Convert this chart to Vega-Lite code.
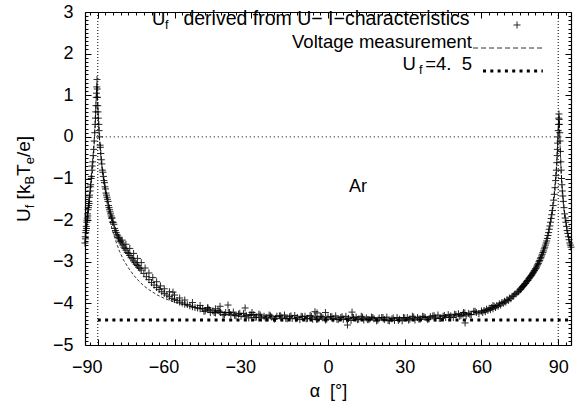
{
  "$schema": "https://vega.github.io/schema/vega-lite/v6.json",
  "width": 486,
  "height": 333,
  "autosize": "none",
  "padding": {"left": 85, "top": 12, "right": 12, "bottom": 66},
  "background": "white",
  "config": {
    "view": {"stroke": null},
    "font": "Liberation Sans",
    "axis": {
      "labelFont": "Liberation Sans", "labelFontSize": 18, "labelColor": "#000",
      "tickColor": "#000", "domainColor": "#000", "grid": false, "tickWidth": 1, "domainWidth": 1.2,
      "titleFont": "Liberation Sans", "titleFontSize": 18, "titleFontWeight": "normal", "titleColor": "#000"
    }
  },
  "datasets": {
    "pts": [
      {"x":-95.0,"y":-2.55},{"x":-94.9,"y":-2.4},{"x":-94.8,"y":-2.45},{"x":-94.7,"y":-2.3},{"x":-94.6,"y":-2.25},{"x":-94.5,"y":-2.15},{"x":-94.4,"y":-2.2},{"x":-94.3,"y":-2.05},{"x":-94.2,"y":-2.0},{"x":-94.1,"y":-1.95},{"x":-94.0,"y":-1.85},{"x":-93.9,"y":-1.9},{"x":-93.8,"y":-1.75},{"x":-93.7,"y":-1.7},{"x":-93.6,"y":-1.65},{"x":-93.5,"y":-1.55},{"x":-93.4,"y":-1.6},{"x":-93.3,"y":-1.45},{"x":-93.2,"y":-1.4},{"x":-93.0,"y":-1.3},{"x":-92.9,"y":-1.2},{"x":-92.8,"y":-1.15},{"x":-92.6,"y":-1.0},{"x":-92.5,"y":-0.95},{"x":-92.3,"y":-0.8},{"x":-92.2,"y":-0.7},{"x":-92.0,"y":-0.6},{"x":-91.8,"y":-0.45},{"x":-91.6,"y":-0.3},{"x":-91.4,"y":-0.1},{"x":-91.2,"y":0.1},{"x":-91.0,"y":0.3},{"x":-90.9,"y":0.45},{"x":-90.8,"y":0.6},{"x":-90.7,"y":0.75},{"x":-90.6,"y":0.95},{"x":-90.5,"y":1.05},{"x":-90.4,"y":1.2},{"x":-90.3,"y":1.38},{"x":-90.2,"y":1.15},
      {"x":-90.1,"y":0.95},{"x":-90.0,"y":0.75},{"x":-89.9,"y":0.6},{"x":-89.8,"y":0.45},{"x":-89.6,"y":0.3},{"x":-89.5,"y":0.15},{"x":-89.3,"y":0.0},{"x":-89.1,"y":-0.2},{"x":-89.0,"y":-0.25},{"x":-88.8,"y":-0.4},{"x":-88.6,"y":-0.55},{"x":-88.4,"y":-0.65},{"x":-88.2,"y":-0.8},{"x":-88.0,"y":-0.85},{"x":-87.8,"y":-0.95},{"x":-87.6,"y":-1.05},{"x":-87.4,"y":-1.1},{"x":-87.2,"y":-1.2},{"x":-87.0,"y":-1.25},{"x":-86.8,"y":-1.35},{"x":-86.6,"y":-1.4},{"x":-86.4,"y":-1.45},{"x":-86.2,"y":-1.5},{"x":-86.0,"y":-1.55},{"x":-85.8,"y":-1.65},{"x":-85.6,"y":-1.7},{"x":-85.4,"y":-1.75},{"x":-85.2,"y":-1.8},{"x":-85.0,"y":-1.85},{"x":-84.8,"y":-1.9},{"x":-84.6,"y":-1.95},{"x":-84.4,"y":-1.95},{"x":-84.2,"y":-2.05},{"x":-84.0,"y":-2.05},{"x":-83.7,"y":-2.1},{"x":-83.4,"y":-2.2},{"x":-83.1,"y":-2.25},{"x":-82.8,"y":-2.3},{"x":-82.5,"y":-2.35},{"x":-82.2,"y":-2.38},{"x":-81.9,"y":-2.42},{"x":-81.6,"y":-2.45},{"x":-81.3,"y":-2.5},{"x":-81.0,"y":-2.52},{"x":-80.6,"y":-2.55},{"x":-80.2,"y":-2.6},{"x":-79.8,"y":-2.65},{"x":-79.4,"y":-2.68},{"x":-79.0,"y":-2.72},{"x":-78.5,"y":-2.78},{"x":-78.0,"y":-2.8},{"x":-77.5,"y":-2.85},{"x":-77.0,"y":-2.9},{"x":-76.5,"y":-2.93},{"x":-76.0,"y":-2.98},{"x":-75.5,"y":-3.02},{"x":-75.0,"y":-3.06},{"x":-74.5,"y":-3.09},{"x":-74.0,"y":-3.13},{"x":-73.5,"y":-3.16},{"x":-73.0,"y":-3.2},{"x":-72.0,"y":-3.28},{"x":-71.0,"y":-3.36},{"x":-70.0,"y":-3.43},{"x":-69.0,"y":-3.5},{"x":-68.0,"y":-3.56},{"x":-67.0,"y":-3.62},{"x":-66.0,"y":-3.67},{"x":-65.0,"y":-3.72},{"x":-64.0,"y":-3.76},{"x":-63.0,"y":-3.8},{"x":-62.0,"y":-3.84},{"x":-61.0,"y":-3.88},{"x":-60.0,"y":-3.91},{"x":-59,"y":-3.93},{"x":-58,"y":-3.97},{"x":-57,"y":-3.99},{"x":-56,"y":-4.02},{"x":-55,"y":-4.03},{"x":-54,"y":-4.06},{"x":-53,"y":-4.08},{"x":-52,"y":-4.1},{"x":-51,"y":-4.11},{"x":-50,"y":-4.13},
      {"x":-80.5,"y":-2.48},{"x":-79,"y":-2.58},{"x":-77.5,"y":-2.68},{"x":-76,"y":-2.8},{"x":-74.5,"y":-2.92},{"x":-73,"y":-3.02},{"x":-71.5,"y":-3.15},{"x":-70,"y":-3.27},{"x":-68.5,"y":-3.38},{"x":-67,"y":-3.48},{"x":-65.5,"y":-3.58},{"x":-64,"y":-3.65},{"x":-62,"y":-3.72},{"x":-60.6,"y":-3.73},{"x":-60,"y":-3.8},{"x":-58,"y":-3.87},{"x":-56,"y":-3.92},{"x":-53,"y":-3.98},{"x":-50,"y":-4.05},{"x":-47,"y":-4.1},{"x":-44,"y":-4.13},
      {"x":-49,"y":-4.12},{"x":-48,"y":-4.18},{"x":-47,"y":-4.12},{"x":-46,"y":-4.22},{"x":-45,"y":-4.18},{"x":-44,"y":-4.23},{"x":-43,"y":-4.17},{"x":-42,"y":-4.22},{"x":-41,"y":-4.28},{"x":-40,"y":-4.22},{"x":-39,"y":-4.22},{"x":-38,"y":-4.27},{"x":-37,"y":-4.21},{"x":-36,"y":-4.3},{"x":-35,"y":-4.26},{"x":-34,"y":-4.31},{"x":-33,"y":-4.24},{"x":-32,"y":-4.29},{"x":-31,"y":-4.35},{"x":-30,"y":-4.28},{"x":-29,"y":-4.27},{"x":-28,"y":-4.33},{"x":-27,"y":-4.26},{"x":-26,"y":-4.35},{"x":-25,"y":-4.31},{"x":-24,"y":-4.35},{"x":-23,"y":-4.28},{"x":-22,"y":-4.33},{"x":-21,"y":-4.38},{"x":-20,"y":-4.31},{"x":-19,"y":-4.3},{"x":-18,"y":-4.35},{"x":-17,"y":-4.28},{"x":-16,"y":-4.37},{"x":-15,"y":-4.32},{"x":-14,"y":-4.36},{"x":-13,"y":-4.29},{"x":-12,"y":-4.34},{"x":-11,"y":-4.39},{"x":-10,"y":-4.32},{"x":-9,"y":-4.31},{"x":-8,"y":-4.36},{"x":-7,"y":-4.29},{"x":-6,"y":-4.38},{"x":-5,"y":-4.33},{"x":-4,"y":-4.38},{"x":-3,"y":-4.31},{"x":-2,"y":-4.35},{"x":-1,"y":-4.4},{"x":0,"y":-4.33},{"x":1,"y":-4.32},{"x":2,"y":-4.37},{"x":3,"y":-4.3},{"x":4,"y":-4.39},{"x":5,"y":-4.34},{"x":6,"y":-4.38},{"x":7,"y":-4.31},{"x":8,"y":-4.36},{"x":9,"y":-4.41},{"x":10,"y":-4.34},{"x":11,"y":-4.33},{"x":12,"y":-4.38},{"x":13,"y":-4.31},{"x":14,"y":-4.4},{"x":15,"y":-4.35},{"x":16,"y":-4.39},{"x":17,"y":-4.33},{"x":18,"y":-4.37},{"x":19,"y":-4.42},{"x":20,"y":-4.35},{"x":21,"y":-4.34},{"x":22,"y":-4.39},{"x":23,"y":-4.33},{"x":24,"y":-4.42},{"x":25,"y":-4.37},{"x":26,"y":-4.41},{"x":27,"y":-4.34},{"x":28,"y":-4.38},{"x":29,"y":-4.42},{"x":30,"y":-4.35},{"x":31,"y":-4.34},{"x":32,"y":-4.38},{"x":33,"y":-4.31},{"x":34,"y":-4.4},{"x":35,"y":-4.34},{"x":36,"y":-4.38},{"x":37,"y":-4.31},{"x":38,"y":-4.34},{"x":39,"y":-4.39},{"x":40,"y":-4.32},{"x":41,"y":-4.3},{"x":42,"y":-4.35},{"x":43,"y":-4.28},{"x":44,"y":-4.36},{"x":45,"y":-4.31},{"x":46,"y":-4.34},{"x":47,"y":-4.27},{"x":48,"y":-4.3},{"x":49,"y":-4.34},{"x":50,"y":-4.27},{"x":51,"y":-4.25},{"x":52,"y":-4.29},{"x":53,"y":-4.22},{"x":54,"y":-4.3},{"x":55,"y":-4.24},{"x":56,"y":-4.27},{"x":57,"y":-4.19},{"x":58,"y":-4.22},{"x":59,"y":-4.25},
      {"x":-48.5,"y":-4.19},{"x":-46.5,"y":-4.15},{"x":-44.5,"y":-4.22},{"x":-42.5,"y":-4.19},{"x":-40.5,"y":-4.27},{"x":-38.5,"y":-4.22},{"x":-36.5,"y":-4.29},{"x":-34.5,"y":-4.24},{"x":-32.5,"y":-4.32},{"x":-30.5,"y":-4.27},{"x":-28.5,"y":-4.34},{"x":-26.5,"y":-4.28},{"x":-24.5,"y":-4.35},{"x":-22.5,"y":-4.3},{"x":-20.5,"y":-4.36},{"x":-18.5,"y":-4.3},{"x":-16.5,"y":-4.36},{"x":-14.5,"y":-4.3},{"x":-12.5,"y":-4.37},{"x":-10.5,"y":-4.31},{"x":-8.5,"y":-4.37},{"x":-6.5,"y":-4.31},{"x":-4.5,"y":-4.38},{"x":-2.5,"y":-4.32},{"x":-0.5,"y":-4.38},{"x":1.5,"y":-4.32},{"x":3.5,"y":-4.38},{"x":5.5,"y":-4.32},{"x":7.5,"y":-4.39},{"x":9.5,"y":-4.33},{"x":11.5,"y":-4.39},{"x":13.5,"y":-4.33},{"x":15.5,"y":-4.39},{"x":17.5,"y":-4.34},{"x":19.5,"y":-4.4},{"x":21.5,"y":-4.34},{"x":23.5,"y":-4.41},{"x":25.5,"y":-4.35},{"x":27.5,"y":-4.41},{"x":29.5,"y":-4.34},{"x":31.5,"y":-4.4},{"x":33.5,"y":-4.33},{"x":35.5,"y":-4.38},{"x":37.5,"y":-4.32},{"x":39.5,"y":-4.37},{"x":41.5,"y":-4.3},{"x":43.5,"y":-4.36},{"x":45.5,"y":-4.29},{"x":47.5,"y":-4.33},{"x":49.5,"y":-4.26},{"x":51.5,"y":-4.31},{"x":53.5,"y":-4.23},{"x":55.5,"y":-4.27},{"x":57.5,"y":-4.19},
      {"x":-42.2,"y":-4.07},{"x":-39.1,"y":-4.04},{"x":-32.4,"y":-4.11},{"x":-29.7,"y":-4.22},{"x":-5.1,"y":-4.2},{"x":-4.3,"y":-4.23},{"x":-1.0,"y":-4.22},{"x":9.4,"y":-4.21},{"x":7.6,"y":-4.52},{"x":52.8,"y":-4.26},{"x":53.6,"y":-4.47},{"x":64.5,"y":-4.05},
      {"x":60.0,"y":-4.18},{"x":60.5,"y":-4.22},{"x":61.0,"y":-4.17},{"x":61.5,"y":-4.2},{"x":62.0,"y":-4.14},{"x":62.5,"y":-4.17},{"x":63.0,"y":-4.12},{"x":63.5,"y":-4.15},{"x":64.0,"y":-4.1},{"x":64.5,"y":-4.13},{"x":65.0,"y":-4.07},{"x":65.5,"y":-4.1},{"x":66.0,"y":-4.05},{"x":66.5,"y":-4.07},{"x":67.0,"y":-4.01},{"x":67.5,"y":-4.04},{"x":68.0,"y":-3.98},{"x":68.5,"y":-4.0},{"x":69.0,"y":-3.95},{"x":69.5,"y":-3.97},{"x":70.0,"y":-3.91},{"x":70.5,"y":-3.93},{"x":71.0,"y":-3.87},{"x":71.5,"y":-3.89},{"x":72.0,"y":-3.83},{"x":72.5,"y":-3.82},{"x":73.0,"y":-3.78},{"x":73.5,"y":-3.77},{"x":74.0,"y":-3.73},{"x":74.5,"y":-3.72},{"x":75.0,"y":-3.68},{"x":75.25,"y":-3.66},{"x":75.5,"y":-3.65},{"x":75.75,"y":-3.62},{"x":76.0,"y":-3.6},{"x":76.25,"y":-3.59},{"x":76.5,"y":-3.57},{"x":76.75,"y":-3.55},{"x":77.0,"y":-3.53},{"x":77.25,"y":-3.52},{"x":77.5,"y":-3.49},{"x":77.75,"y":-3.47},{"x":78.0,"y":-3.45},{"x":78.25,"y":-3.44},{"x":78.5,"y":-3.41},{"x":78.75,"y":-3.39},{"x":79.0,"y":-3.37},{"x":79.25,"y":-3.35},{"x":79.5,"y":-3.33},{"x":79.75,"y":-3.31},{"x":80.0,"y":-3.28},{"x":80.25,"y":-3.26},{"x":80.5,"y":-3.23},{"x":80.75,"y":-3.21},{"x":81.0,"y":-3.18},{"x":81.25,"y":-3.16},{"x":81.5,"y":-3.13},{"x":81.75,"y":-3.1},{"x":82.0,"y":-3.07},{"x":82.25,"y":-3.04},{"x":82.5,"y":-3.0},{"x":82.75,"y":-2.97},{"x":83.0,"y":-2.93},{"x":83.25,"y":-2.9},{"x":83.5,"y":-2.86},{"x":83.75,"y":-2.82},{"x":84.0,"y":-2.78},{"x":84.25,"y":-2.74},{"x":84.5,"y":-2.69},{"x":84.75,"y":-2.65},{"x":85.0,"y":-2.6},{"x":85.25,"y":-2.55},{"x":85.5,"y":-2.5},{"x":85.75,"y":-2.44},{"x":86.0,"y":-2.37},{"x":86.25,"y":-2.3},{"x":86.5,"y":-2.22},{"x":86.75,"y":-2.14},{"x":87.0,"y":-2.05},{"x":87.25,"y":-1.96},{"x":87.5,"y":-1.87},{"x":87.75,"y":-1.77},{"x":88.0,"y":-1.65},{"x":88.25,"y":-1.52},{"x":88.5,"y":-1.38},{"x":88.75,"y":-1.22},{"x":89.0,"y":-1.05},{"x":89.15,"y":-0.93},{"x":89.3,"y":-0.8},{"x":89.45,"y":-0.62},{"x":89.6,"y":-0.45},{"x":89.7,"y":-0.3},{"x":89.8,"y":-0.15},{"x":89.9,"y":0.0},{"x":90.0,"y":0.15},{"x":90.1,"y":0.3},{"x":90.2,"y":0.45},{"x":90.3,"y":0.55},{"x":90.4,"y":0.42},{"x":90.5,"y":0.3},{"x":90.6,"y":0.1},{"x":90.7,"y":-0.1},{"x":90.85,"y":-0.35},{"x":91.0,"y":-0.6},{"x":91.15,"y":-0.8},{"x":91.3,"y":-1.0},{"x":91.45,"y":-1.15},{"x":91.6,"y":-1.3},{"x":91.8,"y":-1.42},{"x":92.0,"y":-1.55},{"x":92.25,"y":-1.7},{"x":92.5,"y":-1.85},{"x":92.75,"y":-1.95},{"x":93.0,"y":-2.05},{"x":93.25,"y":-2.15},{"x":93.5,"y":-2.25},{"x":93.75,"y":-2.32},{"x":94.0,"y":-2.4},{"x":94.25,"y":-2.47},{"x":94.5,"y":-2.55},{"x":94.75,"y":-2.6},{"x":95.0,"y":-2.65}
    ],
    "volt": [
      {"x":-95,"y":-2.55},{"x":-94,"y":-2.0},{"x":-93,"y":-1.45},{"x":-92,"y":-0.8},{"x":-91.3,"y":0.0},{"x":-90.6,"y":1.0},{"x":-90.3,"y":1.3},{"x":-90,"y":0.7},{"x":-89.3,"y":-0.1},{"x":-88.5,"y":-0.7},{"x":-87.5,"y":-1.15},{"x":-86.5,"y":-1.55},{"x":-85.5,"y":-1.9},{"x":-84.5,"y":-2.2},{"x":-83,"y":-2.5},{"x":-81.5,"y":-2.75},{"x":-80,"y":-2.95},{"x":-78,"y":-3.15},{"x":-76,"y":-3.32},{"x":-74,"y":-3.46},{"x":-72,"y":-3.58},{"x":-70,"y":-3.67},{"x":-67,"y":-3.79},{"x":-64,"y":-3.88},{"x":-60,"y":-3.97},{"x":-55,"y":-4.06},{"x":-50,"y":-4.13},{"x":-45,"y":-4.19},{"x":-40,"y":-4.23},{"x":-30,"y":-4.29},{"x":-20,"y":-4.32},{"x":-10,"y":-4.34},{"x":0,"y":-4.35},{"x":10,"y":-4.36},{"x":20,"y":-4.37},{"x":30,"y":-4.37},{"x":40,"y":-4.34},{"x":50,"y":-4.29},{"x":55,"y":-4.25},{"x":60,"y":-4.19},{"x":65,"y":-4.08},{"x":70,"y":-3.93},{"x":74,"y":-3.75},{"x":77,"y":-3.52},{"x":80,"y":-3.25},{"x":82,"y":-3.02},{"x":84,"y":-2.72},{"x":86,"y":-2.3},{"x":87.5,"y":-1.8},{"x":88.5,"y":-1.35},{"x":89.3,"y":-0.75},{"x":89.8,"y":-0.15},{"x":90.2,"y":0.4},{"x":90.6,"y":0.0},{"x":91.2,"y":-0.9},{"x":92,"y":-1.6},{"x":93,"y":-2.1},{"x":94,"y":-2.45},{"x":95,"y":-2.65}
    ],
    "ufl": [{"x":-90,"x2":95,"y":-4.4}],
    "zl": [{"x":-90,"x2":90,"y":0}],
    "vl": [{"x":-90},{"x":90}],
    "lgdot": [{"x":60.6,"x2":84,"y":1.583}],
    "lgdash": [{"x":56.7,"x2":84,"y":2.135}],
    "lgpt": [{"x":73.9,"y":2.688}],
    "lgrow1": [{"x":-0.6,"y":2.688,"t":"derived from U− I−characteristics"}],
    "lgtxt": [{"x":56.3,"y":2.135,"t":"Voltage measurement"},{"x":56.3,"y":1.607,"t":"=4.\u00a0\u00a05"}],
    "lgmain": [{"x":-68.8,"y":2.688,"t":"U"},{"x":29.1,"y":1.607,"t":"U"}],
    "lgsub": [{"x":-63.7,"y":2.592,"t":"f"},{"x":35.6,"y":1.51,"t":"f"}],
    "ar": [{"x":11.7,"y":-1.336,"t":"Ar"}],
    "ytmain": [{"x":-116.5,"y":-2.045,"t":"U"},{"x":-116.5,"y":-1.502,"t":"[k"},{"x":-116.5,"y":-0.938,"t":"T"},{"x":-116.5,"y":-0.486,"t":"/e]"}],
    "ytsub": [{"x":-114.94,"y":-1.716,"t":"f"},{"x":-114.94,"y":-1.147,"t":"B"},{"x":-114.94,"y":-0.659,"t":"e"}]
  },
  "resolve": {"axis": {"x": "independent", "y": "independent"}},
  "layer": [
    {
      "data": {"name": "pts"},
      "mark": {"type": "point", "shape": "M-1,0L1,0M0,-1L0,1", "size": 49, "strokeWidth": 1, "color": "#000", "opacity": 0.85, "filled": false},
      "encoding": {
        "x": {"field": "x", "type": "quantitative", "scale": {"domain": [-95, 95], "nice": false, "zero": false},
              "axis": {"orient": "bottom", "values": [-90, -60, -30, 0, 30, 60, 90], "ticks": false, "domain": true, "labelPadding": 13,
                       "labelOffset": {"condition": {"test": "datum.value < 0", "value": -11}, "value": 0},
                       "title": "α\u00a0\u00a0[°]", "titlePadding": 6}},
        "y": {"field": "y", "type": "quantitative", "scale": {"domain": [-5, 3], "nice": false, "zero": false},
              "axis": {"orient": "left", "values": [-5, -4, -3, -2, -1, 0, 1, 2, 3], "ticks": false, "domain": true, "labelPadding": 12, "title": null}}
      }
    },
    {
      "data": {"name": "volt"},
      "mark": {"type": "line", "color": "#000", "strokeWidth": 0.8, "strokeDash": [3, 2]},
      "encoding": {
        "x": {"field": "x", "type": "quantitative", "scale": {"domain": [-95, 95], "nice": false, "zero": false},
              "axis": {"orient": "top", "values": [-90, -60, -30, 0, 30, 60, 90], "labels": false, "ticks": true, "tickSize": -6, "domain": true, "title": null}},
        "y": {"field": "y", "type": "quantitative", "scale": {"domain": [-5, 3], "nice": false, "zero": false},
              "axis": {"orient": "right", "values": [-5, -4, -3, -2, -1, 0, 1, 2, 3], "labels": false, "ticks": true, "tickSize": -6, "domain": true, "title": null}}
      }
    },
    {
      "data": {"name": "ufl"},
      "mark": {"type": "rule", "color": "#000", "strokeWidth": 3, "strokeDash": [3, 4.3]},
      "encoding": {
        "x": {"field": "x", "type": "quantitative", "scale": {"domain": [-95, 95], "nice": false, "zero": false},
              "axis": {"orient": "bottom", "values": [-90, -60, -30, 0, 30, 60, 90], "labels": false, "ticks": true, "tickSize": -6, "domain": false, "title": null}},
        "x2": {"field": "x2"},
        "y": {"field": "y", "type": "quantitative", "scale": {"domain": [-5, 3], "nice": false, "zero": false},
              "axis": {"orient": "left", "values": [-5, -4, -3, -2, -1, 0, 1, 2, 3], "labels": false, "ticks": true, "tickSize": -6, "domain": false, "title": null}}
      }
    },
    {
      "data": {"name": "zl"},
      "mark": {"type": "rule", "color": "#000", "strokeWidth": 1, "strokeDash": [1, 3]},
      "encoding": {
        "x": {"field": "x", "type": "quantitative", "scale": {"domain": [-95, 95], "nice": false, "zero": false},
              "axis": {"orient": "top", "values": [-93,-90,-87,-84,-81,-78,-75,-72,-69,-66,-63,-60,-57,-54,-51,-48,-45,-42,-39,-36,-33,-30,-27,-24,-21,-18,-15,-12,-9,-6,-3,0,3,6,9,12,15,18,21,24,27,30,33,36,39,42,45,48,51,54,57,60,63,66,69,72,75,78,81,84,87,90,93], "labels": false, "ticks": true, "tickSize": -3, "domain": false, "title": null}},
        "x2": {"field": "x2"},
        "y": {"field": "y", "type": "quantitative", "scale": {"domain": [-5, 3], "nice": false, "zero": false},
              "axis": {"orient": "right", "values": [-4.9,-4.8,-4.7,-4.6,-4.5,-4.4,-4.3,-4.2,-4.1,-3.9,-3.8,-3.7,-3.6,-3.5,-3.4,-3.3,-3.2,-3.1,-2.9,-2.8,-2.7,-2.6,-2.5,-2.4,-2.3,-2.2,-2.1,-1.9,-1.8,-1.7,-1.6,-1.5,-1.4,-1.3,-1.2,-1.1,-0.9,-0.8,-0.7,-0.6,-0.5,-0.4,-0.3,-0.2,-0.1,0.1,0.2,0.3,0.4,0.5,0.6,0.7,0.8,0.9,1.1,1.2,1.3,1.4,1.5,1.6,1.7,1.8,1.9,2.1,2.2,2.3,2.4,2.5,2.6,2.7,2.8,2.9], "labels": false, "ticks": true, "tickSize": -3, "domain": false, "title": null}}
      }
    },
    {
      "data": {"name": "vl"},
      "mark": {"type": "rule", "color": "#000", "strokeWidth": 1, "strokeDash": [1, 2]},
      "encoding": {
        "x": {"field": "x", "type": "quantitative", "scale": {"domain": [-95, 95], "nice": false, "zero": false},
              "axis": {"orient": "bottom", "values": [-93,-90,-87,-84,-81,-78,-75,-72,-69,-66,-63,-60,-57,-54,-51,-48,-45,-42,-39,-36,-33,-30,-27,-24,-21,-18,-15,-12,-9,-6,-3,0,3,6,9,12,15,18,21,24,27,30,33,36,39,42,45,48,51,54,57,60,63,66,69,72,75,78,81,84,87,90,93], "labels": false, "ticks": true, "tickSize": -3, "domain": false, "title": null}}
      }
    },
    {
      "data": {"name": "lgdot"},
      "mark": {"type": "rule", "color": "#000", "strokeWidth": 3, "strokeDash": [3, 4.3]},
      "encoding": {
        "x": {"field": "x", "type": "quantitative", "scale": {"domain": [-95, 95], "nice": false, "zero": false}, "axis": null},
        "x2": {"field": "x2"},
        "y": {"field": "y", "type": "quantitative", "scale": {"domain": [-5, 3], "nice": false, "zero": false},
              "axis": {"orient": "left", "values": [-4.9,-4.8,-4.7,-4.6,-4.5,-4.4,-4.3,-4.2,-4.1,-3.9,-3.8,-3.7,-3.6,-3.5,-3.4,-3.3,-3.2,-3.1,-2.9,-2.8,-2.7,-2.6,-2.5,-2.4,-2.3,-2.2,-2.1,-1.9,-1.8,-1.7,-1.6,-1.5,-1.4,-1.3,-1.2,-1.1,-0.9,-0.8,-0.7,-0.6,-0.5,-0.4,-0.3,-0.2,-0.1,0.1,0.2,0.3,0.4,0.5,0.6,0.7,0.8,0.9,1.1,1.2,1.3,1.4,1.5,1.6,1.7,1.8,1.9,2.1,2.2,2.3,2.4,2.5,2.6,2.7,2.8,2.9], "labels": false, "ticks": true, "tickSize": -3, "domain": false, "title": null}}
      }
    },
    {
      "data": {"name": "lgdash"},
      "mark": {"type": "rule", "color": "#000", "strokeWidth": 0.8, "strokeDash": [5, 3]},
      "encoding": {
        "x": {"field": "x", "type": "quantitative", "scale": {"domain": [-95, 95], "nice": false, "zero": false}, "axis": null},
        "x2": {"field": "x2"},
        "y": {"field": "y", "type": "quantitative", "scale": {"domain": [-5, 3], "nice": false, "zero": false}, "axis": null}
      }
    },
    {
      "data": {"name": "lgpt"},
      "mark": {"type": "point", "shape": "M-1,0L1,0M0,-1L0,1", "size": 49, "strokeWidth": 1, "color": "#000", "opacity": 0.85, "filled": false},
      "encoding": {
        "x": {"field": "x", "type": "quantitative", "scale": {"domain": [-95, 95], "nice": false, "zero": false}, "axis": null},
        "y": {"field": "y", "type": "quantitative", "scale": {"domain": [-5, 3], "nice": false, "zero": false}, "axis": null}
      }
    },
    {
      "data": {"name": "lgrow1"},
      "mark": {"type": "text", "align": "center", "baseline": "alphabetic", "font": "Liberation Sans", "fontSize": 19.5, "color": "#000"},
      "encoding": {
        "x": {"field": "x", "type": "quantitative", "scale": {"domain": [-95, 95], "nice": false, "zero": false}, "axis": null},
        "y": {"field": "y", "type": "quantitative", "scale": {"domain": [-5, 3], "nice": false, "zero": false}, "axis": null},
        "text": {"field": "t"}
      }
    },
    {
      "data": {"name": "lgtxt"},
      "mark": {"type": "text", "align": "right", "baseline": "alphabetic", "font": "Liberation Sans", "fontSize": 18.5, "color": "#000"},
      "encoding": {
        "x": {"field": "x", "type": "quantitative", "scale": {"domain": [-95, 95], "nice": false, "zero": false}, "axis": null},
        "y": {"field": "y", "type": "quantitative", "scale": {"domain": [-5, 3], "nice": false, "zero": false}, "axis": null},
        "text": {"field": "t"}
      }
    },
    {
      "data": {"name": "lgmain"},
      "mark": {"type": "text", "align": "left", "baseline": "alphabetic", "font": "Liberation Sans", "fontSize": 18.5, "color": "#000"},
      "encoding": {
        "x": {"field": "x", "type": "quantitative", "scale": {"domain": [-95, 95], "nice": false, "zero": false}, "axis": null},
        "y": {"field": "y", "type": "quantitative", "scale": {"domain": [-5, 3], "nice": false, "zero": false}, "axis": null},
        "text": {"field": "t"}
      }
    },
    {
      "data": {"name": "lgsub"},
      "mark": {"type": "text", "align": "left", "baseline": "alphabetic", "font": "Liberation Sans", "fontSize": 12.5, "color": "#000"},
      "encoding": {
        "x": {"field": "x", "type": "quantitative", "scale": {"domain": [-95, 95], "nice": false, "zero": false}, "axis": null},
        "y": {"field": "y", "type": "quantitative", "scale": {"domain": [-5, 3], "nice": false, "zero": false}, "axis": null},
        "text": {"field": "t"}
      }
    },
    {
      "data": {"name": "ar"},
      "mark": {"type": "text", "align": "center", "baseline": "alphabetic", "font": "Liberation Sans", "fontSize": 18, "color": "#000"},
      "encoding": {
        "x": {"field": "x", "type": "quantitative", "scale": {"domain": [-95, 95], "nice": false, "zero": false}, "axis": null},
        "y": {"field": "y", "type": "quantitative", "scale": {"domain": [-5, 3], "nice": false, "zero": false}, "axis": null},
        "text": {"field": "t"}
      }
    },
    {
      "data": {"name": "ytmain"},
      "mark": {"type": "text", "align": "left", "baseline": "alphabetic", "angle": 270, "font": "Liberation Sans", "fontSize": 19, "color": "#000"},
      "encoding": {
        "x": {"field": "x", "type": "quantitative", "scale": {"domain": [-95, 95], "nice": false, "zero": false}, "axis": null},
        "y": {"field": "y", "type": "quantitative", "scale": {"domain": [-5, 3], "nice": false, "zero": false}, "axis": null},
        "text": {"field": "t"}
      }
    },
    {
      "data": {"name": "ytsub"},
      "mark": {"type": "text", "align": "left", "baseline": "alphabetic", "angle": 270, "font": "Liberation Sans", "fontSize": 13, "color": "#000"},
      "encoding": {
        "x": {"field": "x", "type": "quantitative", "scale": {"domain": [-95, 95], "nice": false, "zero": false}, "axis": null},
        "y": {"field": "y", "type": "quantitative", "scale": {"domain": [-5, 3], "nice": false, "zero": false}, "axis": null},
        "text": {"field": "t"}
      }
    }
  ]
}
